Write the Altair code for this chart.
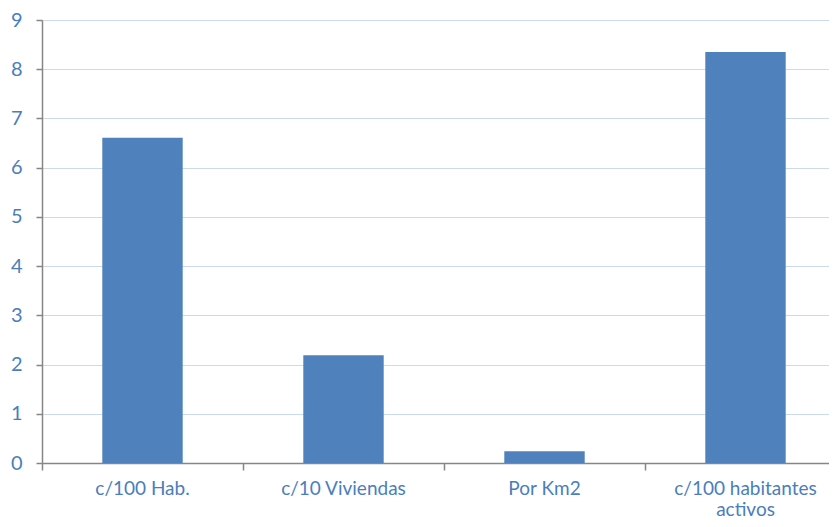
import altair as alt
import pandas as pd

categories = ["c/100 Hab.", "c/10 Viviendas", "Por Km2", "c/100 habitantes activos"]
values = [6.61, 2.19, 0.24, 8.35]
y_ticks = [0, 1, 2, 3, 4, 5, 6, 7, 8, 9]

df = pd.DataFrame({"cat": categories, "val": values})

label_expr = ("datum.label == 'c/100 habitantes activos' ? "
              "['c/100 habitantes', 'activos'] : datum.label")

chart = alt.Chart(df).mark_bar(
    color="#4F81BD", width=alt.RelativeBandSize(0.4)
).encode(
    x=alt.X("cat:N", sort=categories, title=None,
            scale=alt.Scale(paddingInner=0, paddingOuter=0, range=[0, 804]),
            axis=alt.Axis(labelAngle=0, labelExpr=label_expr, bandPosition=0,
                          tickSize=7, labelPadding=9, labelLineHeight=21,
                          labelFontSize=19,
                          labelBaseline="top", grid=False)),
    y=alt.Y("val:Q", title=None,
            scale=alt.Scale(domain=[0, 9], nice=False),
            axis=alt.Axis(values=y_ticks, tickSize=6, labelPadding=14,
                          grid=True, gridColor="#CCDAED", gridWidth=1.2)),
).properties(
    width=787, height=443,
    autosize=alt.AutoSizeParams(type="none"),
    padding={"left": 34, "top": 12, "right": 0, "bottom": 56}
).configure_axis(
    labelFont="Lato", labelFontSize=20, labelColor="#4A7EBB",
    domainColor="#868686", domainWidth=1.5, tickColor="#868686", tickWidth=1.5,
).configure_view(stroke=None)

chart.save("out.html", embed_options={"renderer": "svg", "actions": False})
